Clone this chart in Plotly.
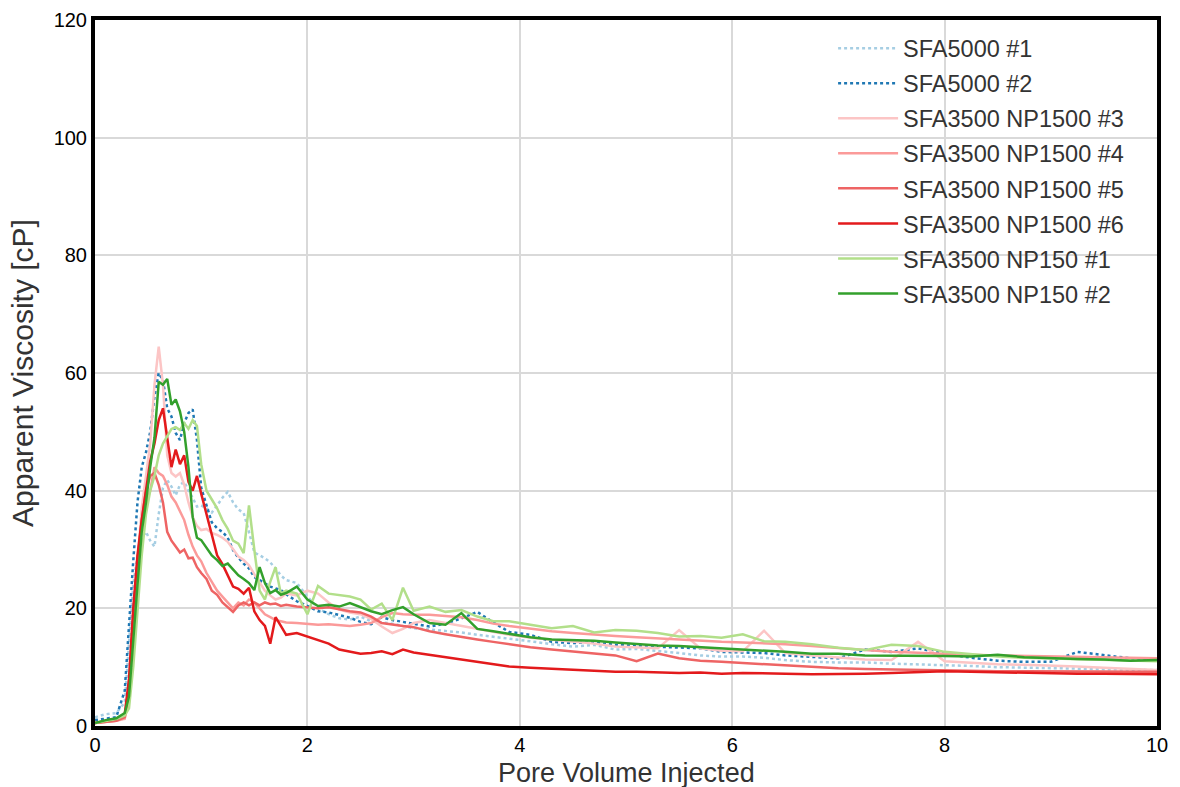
import plotly.graph_objects as go

# Shared pore-volume grid (x)
pv = [0, 0.1, 0.2, 0.28, 0.32, 0.36, 0.40, 0.44, 0.48, 0.52, 0.56, 0.60, 0.64, 0.68, 0.72, 0.76,
      0.80, 0.84, 0.88, 0.92, 0.96, 1.00, 1.05, 1.10, 1.15, 1.20, 1.25, 1.30, 1.35, 1.40, 1.45,
      1.50, 1.55, 1.60, 1.65, 1.70, 1.75, 1.80, 1.90, 2.00, 2.10, 2.20, 2.30, 2.40, 2.50, 2.60,
      2.70, 2.80, 2.90, 3.00, 3.15, 3.30, 3.45, 3.60, 3.75, 3.90, 4.10, 4.30, 4.50, 4.70, 4.90,
      5.10, 5.30, 5.50, 5.70, 5.90, 6.10, 6.30, 6.50, 6.75, 7.00, 7.25, 7.50, 7.75, 8.00, 8.25,
      8.50, 8.75, 9.00, 9.25, 9.50, 9.75, 10.0]

sfa5000_1 = [1.5, 2.0, 2.2, 4, 14, 24, 29, 32, 33, 31.5, 30.5, 36, 40.5, 41.8, 40.7, 39.2,
             41, 41.5, 40, 38.8, 37.3, 37.5, 37, 36.3, 37.5, 38.8, 39.8, 38, 36.8, 36.2, 33,
             29.5, 29, 28.5, 27.8, 26.8, 25.6, 24.8, 24.3, 22, 20, 19, 18.3, 18.1, 18.6, 17.8,
             17.6, 17.4, 17, 16.6, 16.4, 16.2, 15.9, 15.5, 15.2, 14.8, 14.4, 13.9, 13.5, 13.8, 13.0,
             13.1, 12.8, 12.4, 12.0, 11.8, 11.8, 11.6, 11.2, 10.9, 10.8, 10.8, 10.6, 10.5, 10.4, 10.2,
             10.0, 9.9, 9.8, 9.7, 9.6, 9.5, 9.5]

sfa5000_2 = [1.0, 1.2, 1.5, 6, 18, 28, 38, 44, 46.5, 50, 56, 60, 58.8, 54, 52.6, 49.8,
             48.6, 51.5, 53.2, 53.8, 48.6, 40.5, 37.5, 34.6, 33.6, 33, 32, 29.9, 28.6, 27.6, 26.8,
             25.3, 24.8, 24.2, 23.7, 23.4, 23.1, 22.4, 21.2, 20.4, 19.5, 19.3, 18.9, 18.4, 17.7, 17.3,
             18.5, 18, 17.7, 17.4, 16.9, 17.4, 18.3, 19.4, 17.6, 16.0, 15.5, 14.3, 14.1, 14.2, 13.8,
             13.6, 13.5, 13.3, 13.2, 12.6, 12.5, 12.4, 12.0, 11.7, 11.5, 13.0, 12.6, 13.2, 12.3, 11.6,
             11.1, 10.9, 10.9, 12.6, 12.0, 11.5, 11.3]

np1500_3 = [0.5, 0.7, 0.9, 1.2, 5, 17, 28, 37, 43, 48, 58, 64.5, 58, 46, 43, 42.4,
            43, 41, 38, 35.5, 34, 33.3, 33.5, 32.8, 32.5, 32, 31.3, 30, 28.8, 28.2, 27.3,
            25.8, 24.5, 23, 22.2, 21.5, 21.8, 22.5, 22.2, 23, 22.5, 21, 19.8, 19.3, 19, 18.2,
            16.9, 15.8, 16.5, 17.5, 18, 17.5, 17, 16.5, 16, 15.5, 15, 14.7, 14.3, 14, 13.5,
            13.3, 13.2, 16.3, 13.2, 12.8, 12.7, 16.2, 12.4, 12, 11.6, 11.3, 11.2, 14.3, 11, 10.7,
            10.5, 10.4, 10.3, 10.1, 9.9, 9.7, 9.5]

np1500_4 = [0.5, 0.7, 0.9, 1.3, 6, 18, 28, 35, 38, 40, 44, 43, 42.5, 41, 39, 38,
            36.5, 35, 32.5, 30.5, 29, 28, 26, 24.5, 23, 22, 21, 20, 21, 20.5, 21.5,
            21, 20, 19, 18.5, 18, 17.8, 17.6, 17.5, 17.3, 17.2, 17.3, 17.1, 17.0, 17.2, 17.5,
            18.5, 19.2, 19.0, 18.9, 18.9, 18.7, 18.5, 18.0, 17.4, 17.0, 16.5, 16.1, 15.8, 15.5, 15.3,
            15.1, 14.9, 14.6, 14.5, 14.3, 14.2, 14.1, 13.9, 13.6, 13.2, 12.9, 12.6, 12.4, 12.2, 12.1,
            12.0, 11.9, 11.8, 11.7, 11.6, 11.6, 11.5]

np1500_5 = [0.5, 0.7, 0.9, 1.5, 6, 18, 28, 35, 40, 42.5, 43, 41, 38, 33, 31.5, 30.5,
            29.5, 30, 28.5, 28.6, 27, 26, 25, 23, 22.3, 21, 20.2, 19.4, 20.5, 21, 20.5,
            21, 20.5, 21, 20.7, 20.8, 20.4, 20.6, 20.3, 20.2, 20.0, 20.2, 19.8, 19.5, 19.3, 18.6,
            17.5, 17.2, 17.0, 16.8, 16.1, 15.6, 15.1, 14.7, 14.3, 13.9, 13.4, 13.0, 12.7, 12.4, 12.0,
            11.0, 12.3, 11.5, 11.1, 10.9, 10.7, 10.5, 10.3, 10.0, 9.8, 9.7, 9.6, 9.5, 9.4, 9.4,
            9.3, 9.3, 9.3, 9.3, 9.3, 9.2, 9.2]

np1500_6 = [0.5, 0.8, 1.2, 2.0, 8, 20, 29, 35, 40, 45, 48, 52, 54, 49, 44, 47,
            44.5, 46, 41.5, 40, 42.5, 39.5, 36, 32, 29, 27.5, 25.5, 23.7, 23.3, 22.5, 23.5,
            19.5, 18, 17, 14, 18.5, 17, 15.5, 15.8, 15.2, 14.6, 14, 13, 12.6, 12.3, 12.4,
            12.7, 12.2, 13.0, 12.5, 12.1, 11.6, 11.3, 10.9, 10.5, 10.1, 9.9, 9.7, 9.5, 9.3, 9.2,
            9.2, 9.1, 9.0, 9.1, 8.9, 9.0, 9.0, 8.9, 8.8, 8.8, 8.9, 9.0, 9.2, 9.3, 9.2,
            9.1, 9.0, 9.0, 8.9, 8.9, 8.8, 8.8]

np150_1 = [0.5, 0.9, 1.2, 1.8, 3, 10, 20, 29, 36, 40, 42.5, 46, 48, 49.2, 50.5, 50.8,
           50.3, 51.5, 50.5, 52, 51, 44.5, 40, 38.5, 37, 35, 33.5, 31.5, 31, 29.4, 37.5,
           30, 23, 21.5, 24.5, 27, 22.5, 23, 22.5, 19, 23.8, 22.5, 22.2, 22, 21.5, 19.8,
           20.8, 18, 23.5, 19.6, 20.3, 19.4, 19.7, 18.6, 17.8, 17.8, 17.2, 16.6, 17, 15.9, 16.3,
           16.2, 15.8, 15.2, 15.3, 15.0, 15.6, 14.4, 14.3, 13.9, 13.3, 12.9, 13.8, 13.6, 12.6, 12.2,
           11.8, 11.6, 11.5, 11.4, 11.2, 11.1, 11.0]

np150_2 = [0.5, 1.0, 1.3, 2.2, 5, 15, 24, 33, 38, 44, 49, 58.5, 58, 59, 54.6, 55.5,
           53.5, 50, 44, 35.5, 32, 31.6, 30.3, 29, 28.2, 27.2, 27.6, 26.5, 25.6, 25, 24.3,
           23.1, 27, 24.3, 22.6, 23.1, 22.3, 22.6, 23.7, 21.5, 20.4, 20.6, 20.3, 20.9, 20.2, 19.5,
           19.0, 19.7, 20.2, 19.0, 17.5, 17.2, 19.2, 16.5, 16.1, 15.7, 15.1, 14.7, 14.6, 14.5, 14.2,
           13.9, 13.7, 13.6, 13.4, 13.3, 13.0, 12.9, 12.6, 12.3, 12.3, 12.0, 12.0, 11.9, 11.9, 11.8,
           12.1, 11.7, 11.5, 11.4, 11.3, 11.1, 11.2]

series_names = ["SFA5000 #1", "SFA5000 #2", "SFA3500 NP1500 #3", "SFA3500 NP1500 #4",
                "SFA3500 NP1500 #5", "SFA3500 NP1500 #6", "SFA3500 NP150 #1", "SFA3500 NP150 #2"]
series_values = [sfa5000_1, sfa5000_2, np1500_3, np1500_4, np1500_5, np1500_6, np150_1, np150_2]
colors = ["#a6cee3", "#1f78b4", "#fcc5c5", "#fb9a99", "#ee6464", "#e31a1c", "#b2df8a", "#33a02c"]
dashes = ["dot", "dot", "solid", "solid", "solid", "solid", "solid", "solid"]

x_ticks = [0, 2, 4, 6, 8, 10]
y_ticks = [0, 20, 40, 60, 80, 100, 120]

fig = go.Figure()
for i, (name, vals) in enumerate(zip(series_names, series_values)):
    fig.add_trace(go.Scatter(
        x=pv, y=vals, mode="lines", name=name, legendgroup=f"g{i}",
        line=dict(color=colors[i], width=2.5, dash=dashes[i]),
    ))

title_font = dict(family="Liberation Sans Narrow, Arial Narrow, Liberation Sans, sans-serif",
                  size=30, color="#333333")
xtitle_font = dict(family="Liberation Sans Narrow, Arial Narrow, Liberation Sans, sans-serif",
                   size=27, color="#333333")

fig.update_layout(
    width=1180, height=787,
    margin=dict(l=95, r=23, t=20, b=61),
    paper_bgcolor="white", plot_bgcolor="white",
    font=dict(family="Liberation Sans, Arial, sans-serif", color="#000000", size=20),
    showlegend=True,
    legend=dict(x=0.695, y=0.991, xanchor="left", yanchor="top",
                bgcolor="rgba(0,0,0,0)", borderwidth=0, itemwidth=60,
                font=dict(size=23.5, color="#333333"), tracegroupgap=1.5),
    annotations=[dict(text="Pore Volume Injected", xref="paper", yref="paper",
                      x=0.5, y=-0.0425, xanchor="center", yanchor="top",
                      showarrow=False, font=xtitle_font)],
)
fig.update_xaxes(
    range=[0, 10], tickvals=x_ticks, ticktext=[str(t) for t in x_ticks],
    showgrid=True, gridcolor="#d9d9d9", gridwidth=1.5, zeroline=False,
    showline=True, linecolor="black", linewidth=4, mirror=True, ticks="",
    ticklabelstandoff=-2, automargin=False,
)
fig.update_yaxes(
    range=[0, 120], tickvals=y_ticks, ticktext=[str(t) for t in y_ticks],
    showgrid=True, gridcolor="#d9d9d9", gridwidth=1.5, zeroline=False,
    showline=True, linecolor="black", linewidth=4, mirror=True, ticks="",
    automargin=False,
    title=dict(text="Apparent Viscosity [cP]", font=title_font, standoff=12),
)

fig.write_html("out.html")
